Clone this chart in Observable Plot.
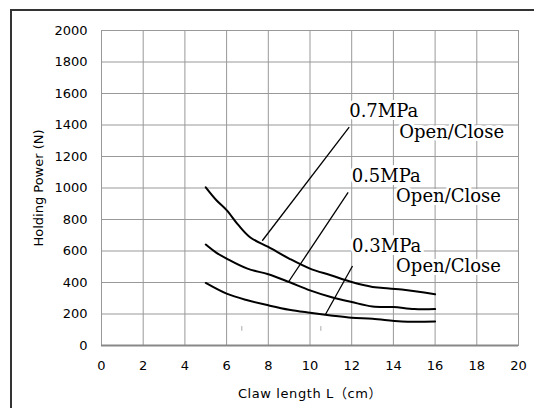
<!DOCTYPE html>
<html>
<head>
<meta charset="utf-8">
<script src="https://cdn.jsdelivr.net/npm/d3@7"></script>
<script src="https://cdn.jsdelivr.net/npm/@observablehq/plot@0.6"></script>
<style>
  html, body { margin: 0; padding: 0; background: #fff; }
  #wrap { position: relative; width: 534px; height: 408px; overflow: hidden; }
  #border { position: absolute; left: 10px; top: 9px; width: 530px; height: 410px;
            border-top: 2px solid #333; border-left: 2px solid #333; }
  #chart { position: absolute; left: 0; top: 0; }
  #chart svg g[aria-label="x-axis tick label"],
  #chart svg g[aria-label="y-axis tick label"],
  #chart svg g[aria-label="x-axis label"],
  #chart svg g[aria-label="y-axis label"] {
    font-family: 'DejaVu Sans', 'Noto Sans CJK JP', sans-serif; font-size: 13px; fill: #000;
  }
  #chart svg g[aria-label="x-axis label"] { letter-spacing: 0.6px; }
</style>
</head>
<body>
<div id="wrap"><div id="border"></div><div id="chart"></div></div>
<script>
// Claw length L (cm)
const len07 = [5.0, 5.5, 6.0, 6.57, 7.14, 8.0, 9.0, 10.0, 11.0, 12.0, 13.0, 13.4, 14.4, 16.0];
const pow07 = [1004, 924, 860, 764, 686, 626, 552, 488, 446, 403, 372, 367, 355, 325];
const len05 = [5.0, 5.5, 6.0, 7.0, 8.0, 9.0, 10.0, 11.0, 12.0, 13.0, 14.0, 15.0, 16.0];
const pow05 = [641, 590, 552, 488, 452, 403, 350, 308, 276, 248, 244, 231, 231];
const len03 = [5.0, 6.0, 7.0, 8.0, 9.0, 10.0, 11.0, 12.0, 13.0, 14.4, 16.0];
const pow03 = [397, 329, 287, 255, 227, 208, 191, 176, 170, 153, 153];

const xTicks = [0, 2, 4, 6, 8, 10, 12, 14, 16, 18, 20];
const yTicks = [0, 200, 400, 600, 800, 1000, 1200, 1400, 1600, 1800, 2000];

// leader lines: [x1, y1, x2, y2]
const leaders = [
  [7.71, 665, 11.88, 1386],
  [8.99, 408, 11.83, 972],
  [10.74, 197, 12.04, 505]
];
// annotation labels
const labelText = ["0.7MPa", "Open/Close", "0.5MPa", "Open/Close", "0.3MPa", "Open/Close"];
const labelX = [11.88, 14.28, 12.0, 14.13, 12.02, 14.13];
const labelY = [1448, 1316, 1037, 910, 592, 465];
// small stray marks
const marksX = [6.73, 10.52];

const series = [[len07, pow07], [len05, pow05], [len03, pow03]];
const curves = series.flatMap(([xs, ys], i) => xs.map((x, j) => ({s: i, x, y: ys[j]})));
const leaderData = leaders.map(([x1, y1, x2, y2]) => ({x1, y1, x2, y2}));
const labels = labelText.map((t, i) => ({t, x: labelX[i], y: labelY[i]}));

const sans = "'DejaVu Sans', 'Noto Sans CJK JP', sans-serif";

const chart = Plot.plot({
  width: 534,
  height: 408,
  marginLeft: 101,
  marginRight: 16,
  marginTop: 30,
  marginBottom: 63,
  style: {fontFamily: sans, fontSize: "13px", color: "#000", background: "transparent"},
  x: {domain: [0, 20], ticks: xTicks},
  y: {domain: [0, 2000], ticks: yTicks},
  marks: [
    Plot.gridX(xTicks, {stroke: "#999", strokeOpacity: 1, strokeWidth: 1}),
    Plot.gridY(yTicks, {stroke: "#999", strokeOpacity: 1, strokeWidth: 1}),
    Plot.frame({stroke: "#999", strokeWidth: 1}),
    Plot.ruleY([0], {stroke: "#888", strokeWidth: 2}),
    Plot.axisX({ticks: xTicks, tickFormat: d3.format("d"), tickSize: 0, tickPadding: 15, fill: "#000",
      label: "Claw length L（cm）", labelAnchor: "center", labelArrow: "none", labelOffset: 52}),
    Plot.axisY({ticks: yTicks, tickFormat: d3.format("d"), tickSize: 0, tickPadding: 14, fill: "#000",
      label: "Holding Power (N)", labelAnchor: "center", labelArrow: "none", labelOffset: 68}),
    Plot.ruleX(marksX, {y1: 90, y2: 120, stroke: "#aaa", strokeWidth: 1}),
    Plot.line(curves, {x: "x", y: "y", z: "s", stroke: "#000", strokeWidth: 2, curve: "catmull-rom"}),
    Plot.link(leaderData, {x1: "x1", y1: "y1", x2: "x2", y2: "y2", stroke: "#000", strokeWidth: 1.3}),
    Plot.text(labels, {x: "x", y: "y", text: "t", textAnchor: "start", lineAnchor: "bottom",
      fontFamily: "'DejaVu Serif', serif", fontSize: 18, fill: "#000", stroke: "#fff", strokeWidth: 6})
  ]
});
document.getElementById("chart").appendChild(chart);
</script>
</body>
</html>
